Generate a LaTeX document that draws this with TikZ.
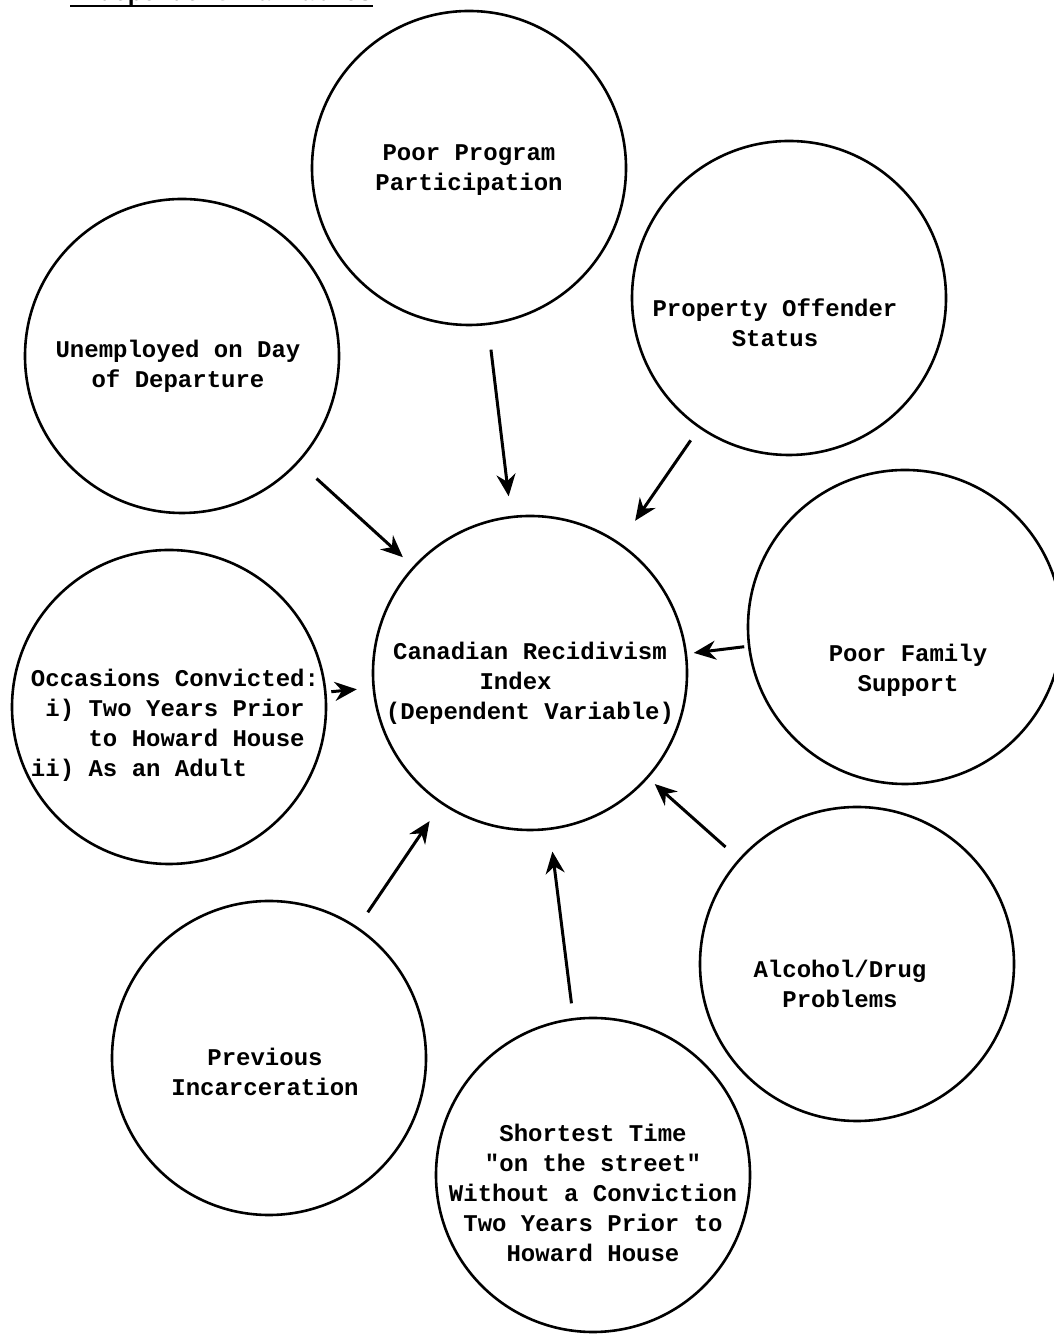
\documentclass[tikz,border=0pt]{standalone}
\usepackage{fontspec}
\setmonofont{Liberation Mono}
\usetikzlibrary{arrows.meta}
\tikzstyle{factor} = [circle, minimum size=314pt, inner sep=0pt, outer sep=0pt, draw=black, line width=2.6pt]
\tikzstyle{txt} = [align=center, inner sep=0pt, font=\ttfamily\bfseries\fontsize{24}{30}\selectfont]
\tikzstyle{arrow} = [line width=3pt,->,>={Stealth[length=22pt,width=19pt]}]
\begin{document}
\begin{tikzpicture}[x=1pt, y=1pt]
	\useasboundingbox (0,0) rectangle (1053,1336);
	\node (title) [txt, anchor=base west] at (70,1335) {Independent Variables};
	\draw [line width=2.5pt] (title.south west) -- (title.south east);

	\node (cri) [factor] at (530,663) {};
	\node (prog) [factor] at (469,1168) {};
	\node (prop) [factor] at (789,1038) {};
	\node (unemp) [factor] at (182,980) {};
	\node (fam) [factor] at (905,709) {};
	\node (occ) [factor] at (169,629) {};
	\node (alc) [factor] at (857,372) {};
	\node (prev) [factor] at (269,278) {};
	\node (short) [factor] at (593,161) {};

	\node (critxt) [txt, yshift=-10pt] at (cri) {Canadian Recidivism\\Index\phantom{xx}\\(Dependent Variable)};
	\node (progtxt) [txt, yshift=-2pt] at (prog) {Poor Program\\Participation};
	\node (proptxt) [txt, xshift=-14pt, yshift=-25pt] at (prop) {Property Offender\\Status};
	\node (unemptxt) [txt, xshift=-4pt, yshift=-10pt] at (unemp) {Unemployed on Day\\of Departure};
	\node (famtxt) [txt, xshift=3pt, yshift=-43pt] at (fam) {Poor Family\\Support};
	\node (occtxt) [txt, align=left, xshift=6pt, yshift=-18pt] at (occ) {Occasions Convicted:\\~i) Two Years Prior\\~~~~to Howard House\\ii) As an Adult};
	\node (alctxt) [txt, xshift=-17pt, yshift=-20pt] at (alc) {Alcohol/Drug\\Problems};
	\node (prevtxt) [txt, xshift=-4pt, yshift=-14pt] at (prev) {Previous\\Incarceration};
	\node (shorttxt) [txt, yshift=-18pt] at (short) {Shortest Time\\"on the street"\\Without a Conviction\\Two Years Prior to\\Howard House};

	\draw [arrow, shorten <=26pt, shorten >=21pt] (prog) -- (cri);
	\draw [arrow, shorten <=16pt, shorten >=28pt] (prop) -- (cri);
	\draw [arrow, shorten <=25pt, shorten >=15pt] (unemp) -- (cri);
	\draw [arrow, shorten <=5pt, shorten >=8pt] (fam) -- (cri);
	\draw [arrow, shorten <=6pt, shorten >=17pt] (occ) -- (cri);
	\draw [arrow, shorten <=19pt, shorten >=10pt] (alc) -- (cri);
	\draw [arrow, shorten <=19pt, shorten >=22pt] (prev) -- (cri);
	\draw [arrow, shorten <=16pt, shorten >=23pt] (short) -- (cri);
\end{tikzpicture}
\end{document}
